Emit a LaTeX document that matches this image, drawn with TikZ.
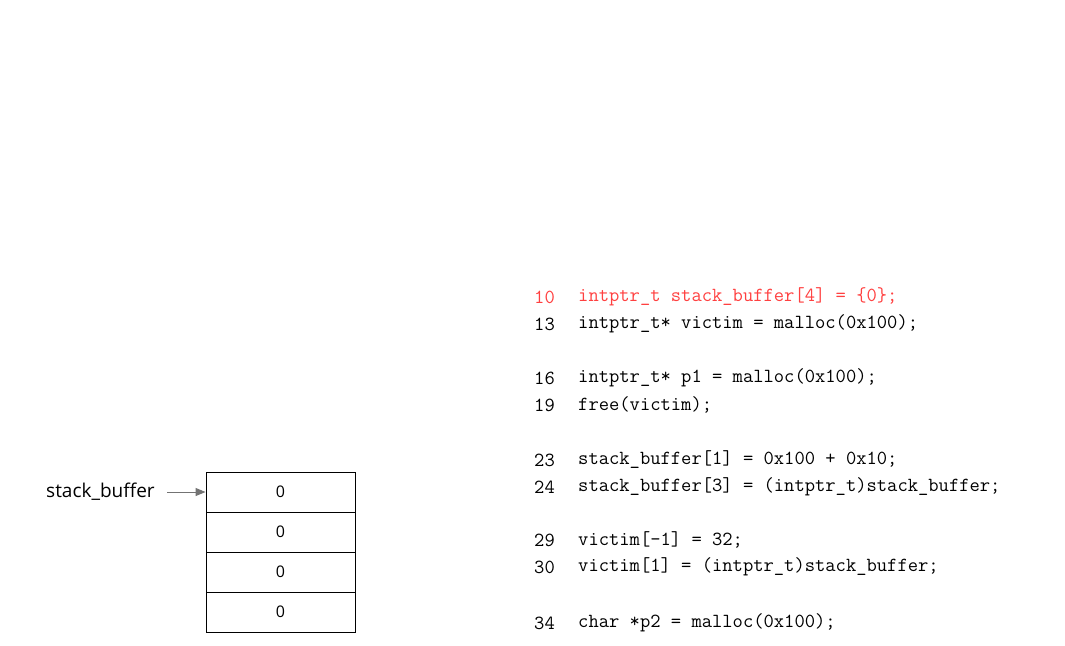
\documentclass[tikz,border=0pt]{standalone}
\usepackage{fontspec}
\setsansfont{Open Sans}
\usetikzlibrary{arrows.meta}
\tikzset{
  cell/.style={draw=black, line width=0.9pt, minimum width=149pt, minimum height=40pt, inner sep=0pt, font=\sffamily\fontsize{16}{18}\selectfont},
  lbl/.style={font=\sffamily\fontsize{19}{21}\selectfont, inner sep=0pt},
  code/.style={font=\ttfamily\fontsize{20}{22}\selectfont, anchor=west, inner sep=0pt},
  hl/.style={text=red!75!white},
  ptr/.style={draw=gray!90!black, line width=1pt, -{Triangle[length=10pt,width=8pt]}}
}
\begin{document}
\begin{tikzpicture}[x=1pt,y=-1pt]
\useasboundingbox (0,0) rectangle (1065,645);
% memory cells
\node[cell] (c0) at (280.5,492) {0};
\node[cell] (c1) at (280.5,532) {0};
\node[cell] (c2) at (280.5,572) {0};
\node[cell] (c3) at (280.5,612) {0};
\node[lbl, anchor=west] (sb) at (46,492) {stack\_buffer};
\coordinate (sbs) at (167,492);
\draw[ptr] (sbs) -- (c0.west);
% code
\node[code,hl] (n10) at (534,297) {10};
\node[code,hl] (l10) at (578,297) {intptr\_t stack\_buffer[4] = \{0\};};
\node[code] (n13) at (534,324) {13};
\node[code] (l13) at (578,324) {intptr\_t* victim = malloc(0x100);};
\node[code] (n16) at (534,378) {16};
\node[code] (l16) at (578,378) {intptr\_t* p1 = malloc(0x100);};
\node[code] (n19) at (534,405) {19};
\node[code] (l19) at (578,405) {free(victim);};
\node[code] (n23) at (534,460) {23};
\node[code] (l23) at (578,460) {stack\_buffer[1] = 0x100 + 0x10;};
\node[code] (n24) at (534,487) {24};
\node[code] (l24) at (578,487) {stack\_buffer[3] = (intptr\_t)stack\_buffer;};
\node[code] (n29) at (534,540) {29};
\node[code] (l29) at (578,540) {victim[-1] = 32;};
\node[code] (n30) at (534,567) {30};
\node[code] (l30) at (578,567) {victim[1] = (intptr\_t)stack\_buffer;};
\node[code] (n34) at (534,623) {34};
\node[code] (l34) at (578,623) {char *p2 = malloc(0x100);};
\end{tikzpicture}
\end{document}
